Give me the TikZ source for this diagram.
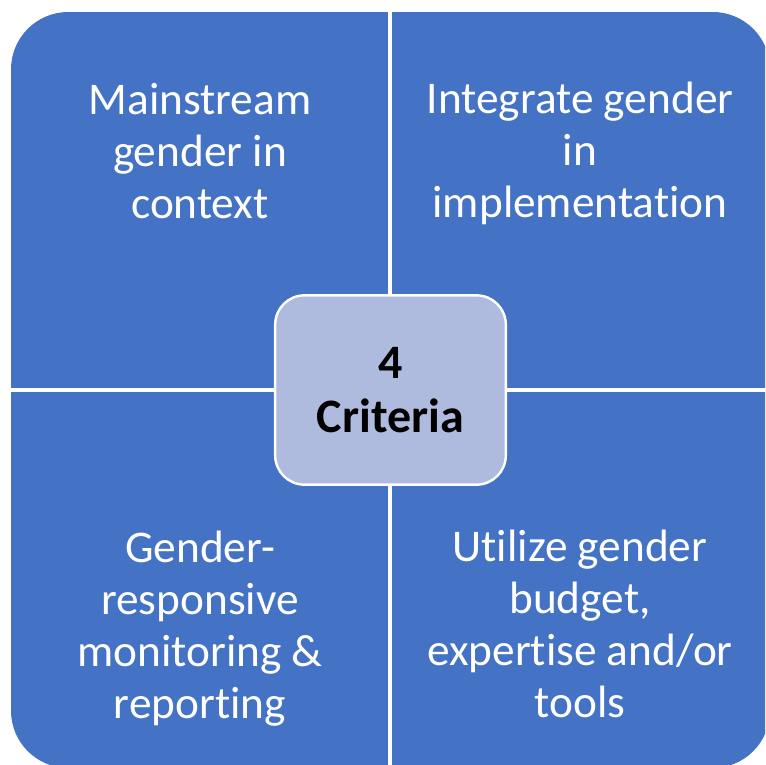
\documentclass[tikz,border=0pt]{standalone}
\usepackage{fontspec}
\setmainfont{Carlito}[Ligatures=NoCommon]
\usepackage{xcolor}
\usepackage{tikz}
\definecolor{quadblue}{HTML}{4472C4}
\definecolor{hubblue}{HTML}{AFBBDE}
\tikzstyle{centered} = [align=center, text centered]
\tikzset{
  % node styles
  qtext/.style={centered, text=white, inner sep=0pt, anchor=base, font=\fontsize{34}{39}\selectfont},
  hub/.style={centered, rounded corners=22pt, fill=hubblue, draw=white, line width=1.8pt,
    minimum width=173pt, minimum height=142pt, font=\fontsize{36}{40}\selectfont\bfseries},
  % line styles
  split/.style={draw=white, line width=2.4pt},
}

\begin{document}
\begin{tikzpicture}[x=0.75pt, y=-0.75pt]
        \useasboundingbox (0,0) rectangle (765,765);
        \clip (0,0) rectangle (765,765);
        % background square
        \fill[quadblue, rounded corners=43pt] (11,12) rectangle (770,768);
        \coordinate (N) at (390,0);
        \coordinate (S) at (390,765);
        \coordinate (W) at (0,390);
        \coordinate (E) at (765,390);
        \draw[split] (N) -- (S);
        \draw[split] (W) -- (E);
        % quadrant texts (anchored at last baseline)
        \node(Q1)[qtext] at (200,218) {Mainstream\\gender in\\context};
        \node(Q2)[qtext] at (580,217) {Integrate gender\\in\\implementation};
        \node(Q3)[qtext] at (200,718) {Gender-\\responsive\\monitoring \&\\reporting};
        \node(Q4)[qtext] at (580,717) {Utilize gender\\budget,\\expertise and/or\\tools};
        % centre
        \node(hub)[hub] at (390.5,390) {4\\Criteria};
    \end{tikzpicture}
\end{document}
